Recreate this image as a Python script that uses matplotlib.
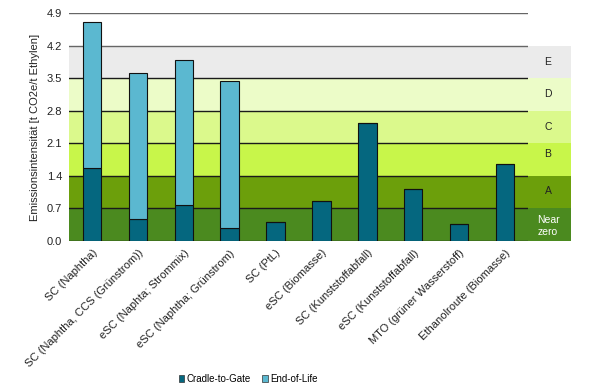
import matplotlib
matplotlib.use("Agg")
import matplotlib.pyplot as plt
import matplotlib.transforms as mtransforms
from matplotlib.patches import Rectangle, Patch

plt.rcParams["font.family"] = ["Liberation Sans", "DejaVu Sans"]

categories = ["SC (Naphtha)", "SC (Naphtha, CCS (Grünstrom))", "eSC (Naphta; Strommix)",
              "eSC (Naphtha; Grünstrom)", "SC (PtL)", "eSC (Biomasse)", "SC (Kunststoffabfall)",
              "eSC (Kunststoffabfall)", "MTO (grüner Wasserstoff)", "Ethanolroute (Biomasse)"]
cradle_to_gate = [1.56, 0.47, 0.77, 0.29, 0.41, 0.87, 2.54, 1.12, 0.37, 1.66]
end_of_life = [3.14, 3.15, 3.13, 3.15, 0.0, 0.0, 0.0, 0.0, 0.0, 0.0]
yticks = [0.0, 0.7, 1.4, 2.1, 2.8, 3.5, 4.2, 4.9]
band_edges = [0.0, 0.7, 1.4, 2.1, 2.8, 3.5, 4.2]
band_labels = ["Near\nzero", "A", "B", "C", "D", "E"]
band_label_y = [0.32, 1.07, 1.87, 2.45, 3.16, 3.85]
band_colors = ["#4b8a1f", "#6c9f0b", "#c8f64a", "#dbf98c", "#ecfcc8", "#ebebeb"]

fig = plt.figure(figsize=(5.9, 3.91), dpi=100)
ax = fig.add_axes([69/590, 1-241/391, 459/590, 228/391])
ax.set_xlim(-0.5, len(categories)-0.5)
ax.set_ylim(0, 4.9)

trans = mtransforms.blended_transform_factory(ax.transAxes, ax.transData)
ext = (571-69)/459
for i, c in enumerate(band_colors):
    lo, hi = band_edges[i], band_edges[i+1]
    ax.add_patch(Rectangle((0, lo), ext, hi-lo, transform=trans, facecolor=c,
                           edgecolor="none", clip_on=False, zorder=0))
    ax.text(1.0436, band_label_y[i], band_labels[i], transform=trans, ha="center", va="center",
            fontsize=7.5, color="white" if i == 0 else "#222222", zorder=3, linespacing=1.3)

for y in yticks:
    ax.axhline(y, color="#666666" if y >= 4.2 else "#1a1a1a", lw=1.0, zorder=1)

x = range(len(categories))
ax.bar(x, cradle_to_gate, width=0.4, color="#05677f", edgecolor="#111111", lw=0.8, zorder=2,
       label="Cradle-to-Gate")
ax.bar(x, end_of_life, bottom=cradle_to_gate, width=0.4, color="#5bb8d0", edgecolor="#111111",
       lw=0.8, zorder=2, label="End-of-Life")

for s in ax.spines.values():
    s.set_visible(False)
ax.set_yticks(yticks)
ax.set_yticklabels([f"{v:.1f}" for v in yticks], fontsize=8, color="#222222")
ax.set_xticks(list(x))
ax.set_xticklabels(categories, rotation=45, ha="right", rotation_mode="anchor", fontsize=8,
                   color="#222222")
ax.tick_params(length=0, pad=5)
ax.set_ylabel("Emissionsintensität [t CO2e/t Ethylen]", fontsize=8, color="#222222", labelpad=5)

handles = [Patch(facecolor="#05677f", edgecolor="#333333", lw=0.5),
           Patch(facecolor="#5bb8d0", edgecolor="#333333", lw=0.5)]
fig.legend(handles, ["Cradle-to-Gate", "End-of-Life"], loc="center",
           bbox_to_anchor=(248/590, 1-379/391),
           ncol=2, frameon=False, fontsize=7, handlelength=0.6, handleheight=0.6,
           handletextpad=0.2, columnspacing=1.2)

fig.savefig("out.png", dpi=100)
